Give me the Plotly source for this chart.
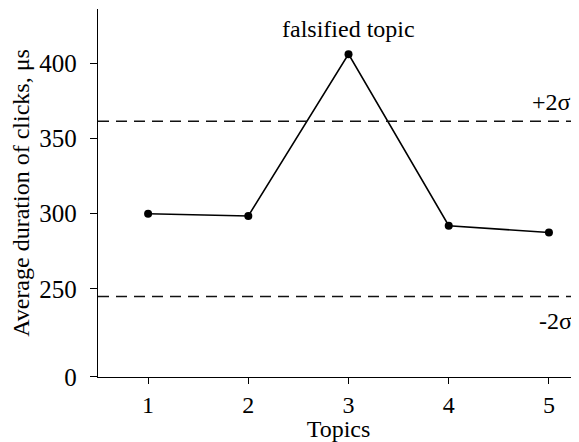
import plotly.graph_objects as go

topics = [1, 2, 3, 4, 5]
durations = [300, 298.5, 406, 292, 287.5]
upper_2sigma = 361.5
lower_2sigma = 245
ytick_values = [191.6, 250, 300, 350, 400]
ytick_labels = ["0", "250", "300", "350", "400"]

FONT = "Liberation Serif, Times New Roman, serif"
FS = 24

fig = go.Figure()
fig.add_trace(go.Scatter(
    x=topics, y=durations, mode="lines+markers",
    line=dict(color="black", width=1.6),
    marker=dict(color="black", size=8),
    showlegend=False,
))

for yv in (upper_2sigma, lower_2sigma):
    fig.add_shape(type="line", xref="paper", yref="y", x0=0, x1=1, y0=yv, y1=yv,
                  line=dict(color="#111111", width=1.5, dash="11px,7px"))

fig.add_annotation(x=3, y=406, text="falsified topic", showarrow=False,
                   yshift=25, font=dict(family=FONT, size=FS, color="black"))
fig.add_annotation(x=5.03, y=374, text="+2σ", showarrow=False, xanchor="center",
                   font=dict(family=FONT, size=FS, color="black"))
fig.add_annotation(x=5.07, y=229, text="-2σ", showarrow=False, xanchor="center",
                   font=dict(family=FONT, size=FS, color="black"))

# page body has an 8px default margin, so the figure is sized to fit in 579x442
fig.update_layout(
    width=571, height=434,
    margin=dict(l=90, r=0, t=1, b=65),
    plot_bgcolor="white", paper_bgcolor="white",
    font=dict(family=FONT, size=FS, color="black"),
    xaxis=dict(range=[0.5, 5.3], tickvals=topics, ticks="outside", ticklen=6,
               tickcolor="black", showline=True, linecolor="black", linewidth=1.4,
               showgrid=False, zeroline=False, automargin=False,
               tickfont=dict(size=24),
               title=dict(text="Topics", standoff=0, font=dict(size=FS))),
    yaxis=dict(range=[191.5, 436], tickvals=ytick_values, ticktext=ytick_labels,
               ticks="outside", ticklen=7, tickcolor="black", showline=True,
               linecolor="black", linewidth=1.4, showgrid=False, zeroline=False,
               automargin=False, tickfont=dict(size=25), ticklabelstandoff=8,
               title=dict(text="Average duration of clicks, μs", standoff=14,
                          font=dict(size=FS))),
)

fig.write_html("out.html")
